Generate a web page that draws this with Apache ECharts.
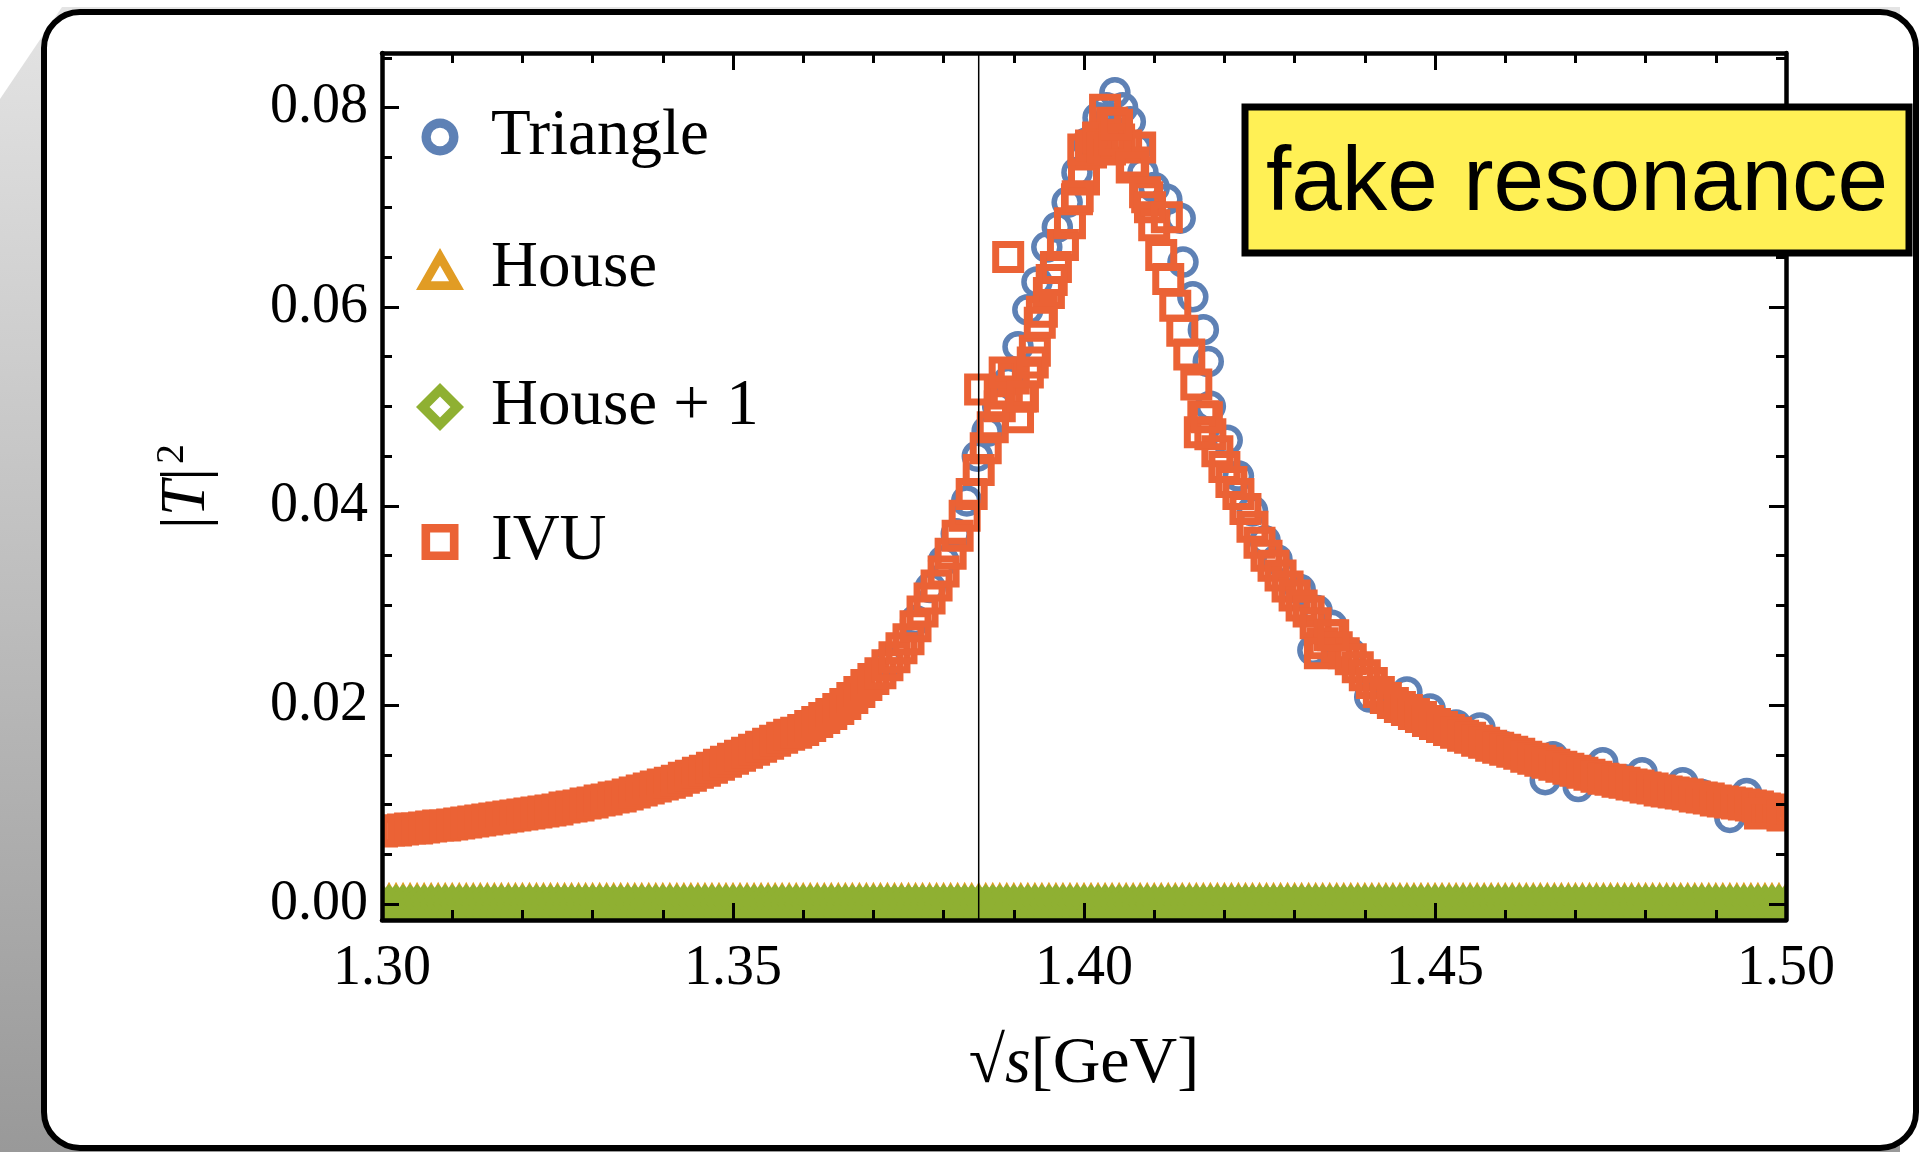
<!DOCTYPE html>
<html>
<head>
<meta charset="utf-8">
<title>fake resonance</title>
<script src="https://cdn.jsdelivr.net/npm/echarts@6/dist/echarts.min.js"></script>
<style>
html,body{margin:0;padding:0;background:#fff;}
#main{width:1922px;height:1152px;}
</style>
</head>
<body>
<div id="main"></div>
<script>
// sqrt(s) grid in GeV, shared by IVU / House / House + 1
var gridX = [
    1.300,1.301,1.302,1.303,1.304,1.305,1.306,1.307,1.308,1.309,
    1.310,1.311,1.312,1.313,1.314,1.315,1.316,1.317,1.318,1.319,
    1.320,1.321,1.322,1.323,1.324,1.325,1.326,1.327,1.328,1.329,
    1.330,1.331,1.332,1.333,1.334,1.335,1.336,1.337,1.338,1.339,
    1.340,1.341,1.342,1.343,1.344,1.345,1.346,1.347,1.348,1.349,
    1.350,1.351,1.352,1.353,1.354,1.355,1.356,1.357,1.358,1.359,
    1.360,1.361,1.362,1.363,1.364,1.365,1.366,1.367,1.368,1.369,
    1.370,1.371,1.372,1.373,1.374,1.375,1.376,1.377,1.378,1.379,
    1.380,1.381,1.382,1.383,1.384,1.385,1.386,1.387,1.388,1.389,
    1.390,1.391,1.392,1.393,1.394,1.395,1.396,1.397,1.398,1.399,
    1.400,1.401,1.402,1.403,1.404,1.405,1.406,1.407,1.408,1.409,
    1.410,1.411,1.412,1.413,1.414,1.415,1.416,1.417,1.418,1.419,
    1.420,1.421,1.422,1.423,1.424,1.425,1.426,1.427,1.428,1.429,
    1.430,1.431,1.432,1.433,1.434,1.435,1.436,1.437,1.438,1.439,
    1.440,1.441,1.442,1.443,1.444,1.445,1.446,1.447,1.448,1.449,
    1.450,1.451,1.452,1.453,1.454,1.455,1.456,1.457,1.458,1.459,
    1.460,1.461,1.462,1.463,1.464,1.465,1.466,1.467,1.468,1.469,
    1.470,1.471,1.472,1.473,1.474,1.475,1.476,1.477,1.478,1.479,
    1.480,1.481,1.482,1.483,1.484,1.485,1.486,1.487,1.488,1.489,
    1.490,1.491,1.492,1.493,1.494,1.495,1.496,1.497,1.498,1.499,
    1.500
];
// |T|^2 for IVU on gridX
var ivuY = [
    0.0073,0.0074,0.0074,0.0075,0.0076,0.0076,0.0077,0.0078,0.0079,0.0079,
    0.0080,0.0081,0.0082,0.0083,0.0084,0.0085,0.0086,0.0087,0.0088,0.0089,
    0.0090,0.0091,0.0092,0.0093,0.0094,0.0095,0.0097,0.0098,0.0099,0.0101,
    0.0102,0.0104,0.0105,0.0107,0.0108,0.0110,0.0112,0.0114,0.0116,0.0118,
    0.0120,0.0122,0.0124,0.0127,0.0129,0.0132,0.0134,0.0137,0.0140,0.0143,
    0.0146,0.0149,0.0152,0.0155,0.0158,0.0161,0.0164,0.0167,0.0170,0.0172,
    0.0175,0.0179,0.0183,0.0187,0.0191,0.0196,0.0201,0.0207,0.0213,0.0220,
    0.0226,0.0232,0.0240,0.0248,0.0257,0.0266,0.0279,0.0294,0.0307,0.0320,
    0.0334,0.0352,0.0370,0.0390,0.0412,0.0436,0.0458,0.0479,0.0500,0.0515,
    0.0528,0.0510,0.0534,0.0556,0.0595,0.0614,0.0640,0.0662,0.0684,0.0708,
    0.0728,0.0755,0.0765,0.0798,0.0785,0.0768,0.0762,0.0745,0.0760,0.0710,
    0.0682,0.0652,0.0628,0.0601,0.0576,0.0552,0.0522,0.0490,0.0472,0.0455,
    0.0439,0.0424,0.0412,0.0397,0.0379,0.0363,0.0350,0.0340,0.0330,0.0319,
    0.0310,0.0300,0.0294,0.0282,0.0262,0.0270,0.0258,0.0252,0.0246,0.0238,
    0.0230,0.0222,0.0213,0.0207,0.0202,0.0198,0.0195,0.0191,0.0188,0.0184,
    0.0181,0.0178,0.0175,0.0172,0.0169,0.0167,0.0164,0.0162,0.0159,0.0157,
    0.0155,0.0153,0.0151,0.0148,0.0146,0.0144,0.0142,0.0140,0.0138,0.0136,
    0.0134,0.0132,0.0130,0.0128,0.0126,0.0125,0.0123,0.0122,0.0120,0.0119,
    0.0117,0.0116,0.0114,0.0113,0.0112,0.0111,0.0110,0.0108,0.0107,0.0106,
    0.0104,0.0103,0.0102,0.0101,0.0100,0.0099,0.0098,0.0096,0.0095,0.0093,
    0.0092
];
// scattered IVU points around the peak
var ivuExtraX = [1.3852,1.3880,1.3887,1.3892,1.3906,1.3913,1.3927,1.3937,1.3954,1.3991,
    1.3999,1.4010,1.4020,1.4027,1.4037,1.4044,1.4047,1.4068,1.4087,1.4094,
    1.4118,1.4165,1.4175,1.4336,1.4355,1.4963,1.4995];
var ivuExtraY = [0.0517,0.0513,0.0534,0.0650,0.0489,0.0510,0.0544,0.0584,0.0627,0.0711,
    0.0758,0.0762,0.0770,0.0760,0.0758,0.0768,0.0783,0.0740,0.0715,0.0700,
    0.0690,0.0474,0.0489,0.0252,0.0270,0.0091,0.0089];
// Triangle
var triX = [1.300,1.304,1.308,1.312,1.316,1.320,1.324,1.328,1.332,1.336,
    1.340,1.344,1.348,1.352,1.356,1.360,1.364,1.368,1.372,1.3760,
    1.3781,1.3800,1.3818,1.3833,1.3848,1.3862,1.3877,1.3892,1.3906,1.3920,
    1.3933,1.3947,1.3962,1.3976,1.3990,1.4005,1.4020,1.4032,1.4044,1.4055,
    1.4066,1.4075,1.4084,1.4100,1.4118,1.4137,1.4141,1.4155,1.4170,1.4177,
    1.4180,1.4204,1.4220,1.4240,1.4258,1.4275,1.4308,1.4332,1.4353,1.4326,
    1.4380,1.4407,1.4430,1.4460,1.4493,1.4530,1.4564,1.4600,1.4630,1.4657,
    1.4668,1.4704,1.4739,1.4770,1.4795,1.4820,1.4853,1.4880,1.4920,1.4944,
    1.4975,1.5000];
var triY = [0.0073,0.0076,0.0079,0.0082,0.0086,0.0090,0.0094,0.0099,0.0105,0.0112,
    0.0121,0.0131,0.0140,0.0152,0.0163,0.0174,0.0191,0.0214,0.0243,0.0285,
    0.0318,0.0345,0.0372,0.0405,0.0450,0.0475,0.0500,0.0525,0.0560,0.0597,
    0.0625,0.0660,0.0680,0.0705,0.0735,0.0765,0.0790,0.0800,0.0815,0.0800,
    0.0786,0.0760,0.0735,0.0720,0.0708,0.0689,0.0645,0.0610,0.0577,0.0545,
    0.0500,0.0466,0.0430,0.0395,0.0365,0.0346,0.0316,0.0295,0.0280,0.0255,
    0.0252,0.0208,0.0206,0.0213,0.0196,0.0180,0.0177,0.0158,0.0150,0.0125,
    0.0148,0.0118,0.0142,0.0125,0.0132,0.0116,0.0122,0.0110,0.0087,0.0111,
    0.0097,0.0093];
// House and House + 1 on gridX (all at zero)
var houseY = [
    0,0,0,0,0,0,0,0,0,0, 0,0,0,0,0,0,0,0,0,0, 0,0,0,0,0,0,0,0,0,0, 0,0,0,0,0,0,0,0,0,0,
    0,0,0,0,0,0,0,0,0,0, 0,0,0,0,0,0,0,0,0,0, 0,0,0,0,0,0,0,0,0,0, 0,0,0,0,0,0,0,0,0,0,
    0,0,0,0,0,0,0,0,0,0, 0,0,0,0,0,0,0,0,0,0, 0,0,0,0,0,0,0,0,0,0, 0,0,0,0,0,0,0,0,0,0,
    0,0,0,0,0,0,0,0,0,0, 0,0,0,0,0,0,0,0,0,0, 0,0,0,0,0,0,0,0,0,0, 0,0,0,0,0,0,0,0,0,0,
    0,0,0,0,0,0,0,0,0,0, 0,0,0,0,0,0,0,0,0,0, 0,0,0,0,0,0,0,0,0,0, 0,0,0,0,0,0,0,0,0,0,
    0
];
var housePlusY = [
    0,0,0,0,0,0,0,0,0,0, 0,0,0,0,0,0,0,0,0,0, 0,0,0,0,0,0,0,0,0,0, 0,0,0,0,0,0,0,0,0,0,
    0,0,0,0,0,0,0,0,0,0, 0,0,0,0,0,0,0,0,0,0, 0,0,0,0,0,0,0,0,0,0, 0,0,0,0,0,0,0,0,0,0,
    0,0,0,0,0,0,0,0,0,0, 0,0,0,0,0,0,0,0,0,0, 0,0,0,0,0,0,0,0,0,0, 0,0,0,0,0,0,0,0,0,0,
    0,0,0,0,0,0,0,0,0,0, 0,0,0,0,0,0,0,0,0,0, 0,0,0,0,0,0,0,0,0,0, 0,0,0,0,0,0,0,0,0,0,
    0,0,0,0,0,0,0,0,0,0, 0,0,0,0,0,0,0,0,0,0, 0,0,0,0,0,0,0,0,0,0, 0,0,0,0,0,0,0,0,0,0,
    0
];
var yMajorTicks = [0, 0.02, 0.04, 0.06, 0.08];
var yMinorTicks = [0.005,0.01,0.015,0.025,0.03,0.035,0.045,0.05,0.055,0.065,0.07,0.075,0.085];
var yMin = -0.0016, yMax = 0.0855;
var thresholdX = 1.385;

var colTri = '#5E81B5', colHouse = '#E19C24', colHouse1 = '#8FB032', colIvu = '#EB6235';
var serif = 'Liberation Serif';

// hollow legend keys (filled rings)
var keyCircle = 'path://M15,0A15,15 0 1,1 15,30A15,15 0 1,1 15,0ZM15,7.5A7.5,7.5 0 1,0 15,22.5A7.5,7.5 0 1,0 15,7.5Z';
var keyTriangle = 'path://M19.5,0L39,34L0,34ZM19.5,14.1L12.1,27L26.9,27Z';
var keyDiamond = 'path://M19.5,0L39,19.5L19.5,39L0,19.5ZM19.5,11L11,19.5L19.5,28L28,19.5Z';
var keySquare = 'path://M0,0L30,0L30,30L0,30ZM7,7L7,23L23,23L23,7Z';

function toPairs(xs, ys) {
    var out = [];
    for (var i = 0; i < xs.length; i++) out.push([xs[i], ys[i]]);
    return out;
}

var chart = echarts.init(document.getElementById('main'), null, {renderer: 'canvas'});

var frame = {show: true, onZero: false, lineStyle: {color: '#000', width: 4.5}};
function xAx(pos, labels) {
    return {
        type: 'value', position: pos, min: 1.30, max: 1.50, interval: 0.05, z: 10,
        axisLine: frame,
        axisTick: {show: true, inside: true, length: 17, lineStyle: {color: '#000', width: 3}},
        minorTick: {show: true, splitNumber: 5, length: 10, lineStyle: {color: '#000', width: 3}},
        splitLine: {show: false},
        axisLabel: {show: labels, margin: 21, fontFamily: serif, fontSize: 56, color: '#000',
            formatter: function (v) { return v.toFixed(2); }}
    };
}
function yAx(pos, ticks, len, labels, line) {
    return {
        type: 'value', position: pos, min: yMin, max: yMax, z: 10,
        axisLine: line ? frame : {show: false, onZero: false},
        axisTick: {show: true, inside: true, length: len, customValues: ticks,
            lineStyle: {color: '#000', width: 3}},
        splitLine: {show: false},
        axisLabel: {show: labels, customValues: ticks, margin: 14, fontFamily: serif, fontSize: 56,
            color: '#000', formatter: function (v) { return v.toFixed(2); }}
    };
}

var xBottom = xAx('bottom', true);
xBottom.name = '√{i|s}[GeV]';
xBottom.nameLocation = 'middle';
xBottom.nameGap = 112;
xBottom.nameTextStyle = {fontFamily: serif, fontSize: 66, color: '#000',
    rich: {i: {fontFamily: serif, fontSize: 66, fontStyle: 'italic', color: '#000'}}};

var yLeft = yAx('left', yMajorTicks, 17, true, true);
yLeft.name = '|{i|T}|{s|2}';
yLeft.nameLocation = 'middle';
yLeft.nameGap = 160;
yLeft.nameRotate = 90;
yLeft.nameTextStyle = {fontFamily: serif, fontSize: 64, color: '#000', lineHeight: 70,
    rich: {
        i: {fontFamily: serif, fontSize: 64, fontStyle: 'italic', color: '#000', lineHeight: 70},
        s: {fontFamily: serif, fontSize: 40, color: '#000', verticalAlign: 'top', lineHeight: 40, padding: [0, 0, 0, 4]}
    }};

function scatter(name, symbol, size, color, bw, data) {
    return {
        name: name, type: 'scatter', symbol: symbol, symbolSize: size, data: data, z: 2,
        itemStyle: {color: 'transparent', borderColor: color, borderWidth: bw, opacity: 1},
        emphasis: {disabled: true}, silent: true
    };
}

// one legend block per entry so every key symbol keeps its own size
function legendItem(name, icon, color, w, h, cy) {
    var left = 440 - w / 2 - 5;
    return {
        orient: 'vertical', left: left, top: cy - 39,
        itemWidth: w, itemHeight: h, symbolKeepAspect: false,
        selectedMode: false,
        textStyle: {fontFamily: serif, fontSize: 65, color: '#000', lineHeight: 70,
            padding: [0, 0, 0, 481 - left - w]},
        data: [{name: name, icon: icon,
            itemStyle: {color: color, borderColor: 'transparent', borderWidth: 0}}]
    };
}

var option = {
    backgroundColor: '#fff',
    animation: false,
    grid: {left: 382, right: 136, top: 53, bottom: 232, outerBoundsMode: 'none'},
    xAxis: [xBottom, xAx('top', false)],
    yAxis: [
        yLeft,
        yAx('left', yMinorTicks, 10, false, false),
        yAx('right', yMajorTicks, 17, false, true),
        yAx('right', yMinorTicks, 10, false, false)
    ],
    legend: [
        legendItem('Triangle', keyCircle, colTri, 37, 37, 136),
        legendItem('House', keyTriangle, colHouse, 48, 42, 268),
        legendItem('House + 1', keyDiamond, colHouse1, 48, 48, 406),
        legendItem('IVU', keySquare, colIvu, 37, 36, 541)
    ],
    series: [
        scatter('Triangle', 'circle', 26, colTri, 5.5, toPairs(triX, triY)),
        scatter('House', 'triangle', [36, 34], colHouse, 5, toPairs(gridX, houseY)),
        scatter('House + 1', 'diamond', 32, colHouse1, 5.5, toPairs(gridX, housePlusY)),
        scatter('IVU', 'rect', 25, colIvu, 7,
            toPairs(gridX, ivuY).concat(toPairs(ivuExtraX, ivuExtraY))),
        {
            name: 'threshold', type: 'line', z: 6, silent: true, symbol: 'none',
            data: [[thresholdX, yMin], [thresholdX, yMax]],
            lineStyle: {color: '#000', width: 1.5}
        }
    ],
    graphic: [
        {
            type: 'polygon', z: -100, silent: true,
            shape: {points: [[0, 99], [62, 7], [1900, 7], [1900, 1152], [0, 1152]]},
            style: {fill: new echarts.graphic.LinearGradient(0, 0, 0, 1, [
                {offset: 0, color: '#e4e4e4'}, {offset: 1, color: '#999999'}])}
        },
        {
            type: 'rect', z: -99, silent: true,
            shape: {x: 44, y: 12, width: 1872, height: 1136, r: 36},
            style: {fill: '#fff', stroke: '#000', lineWidth: 6}
        },
        // keep markers inside the frame, like the plot range clipping
        {type: 'rect', z: 5, silent: true, shape: {x: 320, y: 45, width: 61, height: 895}, style: {fill: '#fff'}},
        {type: 'rect', z: 5, silent: true, shape: {x: 1787, y: 45, width: 60, height: 895}, style: {fill: '#fff'}},
        {type: 'rect', z: 5, silent: true, shape: {x: 320, y: 921, width: 1527, height: 20}, style: {fill: '#fff'}},
        {
            type: 'rect', z: 100, silent: true,
            shape: {x: 1245, y: 107, width: 664, height: 146},
            style: {fill: '#FFF055', stroke: '#000', lineWidth: 7}
        },
        {
            type: 'text', z: 101, silent: true,
            style: {text: 'fake resonance', x: 1577, y: 185,
                align: 'center', verticalAlign: 'middle',
                fontFamily: 'Liberation Sans', fontSize: 91, fill: '#000'}
        }
    ]
};

chart.setOption(option);
</script>
</body>
</html>
